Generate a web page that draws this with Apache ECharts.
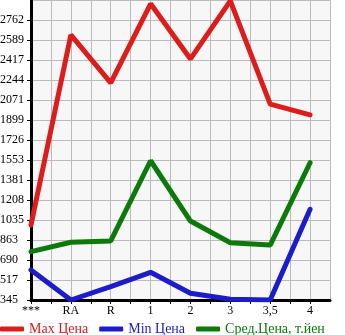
<!DOCTYPE html>
<html><head><meta charset="utf-8">
<script src="https://cdn.jsdelivr.net/npm/echarts@6/dist/echarts.min.js"></script>
<style>html,body{margin:0;padding:0;background:#fff}#c{width:345px;height:335px}</style>
</head><body><div id="c"></div>
<script>
const categories = ['***', 'RA', 'R', '1', '2', '3', '3,5', '4'];
const yTickLabels = ['345','517','690','863','1035','1208','1381','1553','1726','1899','2071','2244','2417','2589','2762'];
const maxPrice = [992, 2631, 2217, 2900, 2424, 2925, 2035, 1941];
const minPrice = [604, 345, 460, 584, 403, 352, 345, 1127];
const avgPrice = [762, 843, 854, 1546, 1026, 839, 819, 1529];

const yMin = 345, yStep = 172.5;
const font = 'Liberation Serif';
const chart = echarts.init(document.getElementById('c'), null, {renderer: 'canvas'});
function pts(arr){ return arr.map((v,i)=>[i,v]); }
chart.setOption({
  animation: false,
  grid: {left: 31, top: 0, right: 15, bottom: 35, show: true, backgroundColor: '#f7f7f7', borderWidth: 0,
         containLabel: false, outerBoundsMode: 'none'},
  xAxis: {
    type: 'value', min: 0, max: 7.5, interval: 0.5,
    axisLine: {show: true, onZero: false, lineStyle: {color: '#000', width: 3}},
    axisTick: {show: true, length: 4, lineStyle: {color: '#000', width: 1}},
    splitLine: {show: true, lineStyle: {color: '#bbbbbb', width: 1}},
    axisLabel: {
      color: '#000', fontFamily: font, fontSize: 12, margin: 5,
      showMaxLabel: false,
      formatter: v => { const i = Math.round(v*2); return (i % 2 === 0 && categories[i/2] !== undefined) ? categories[i/2] : ''; }
    }
  },
  yAxis: {
    type: 'value', min: yMin, max: yMin + 15*yStep, interval: yStep,
    axisLine: {show: true, lineStyle: {color: '#000', width: 3}},
    axisTick: {show: true, length: 4, lineStyle: {color: '#000', width: 1}},
    splitLine: {show: true, lineStyle: {color: '#bbbbbb', width: 1}},
    axisLabel: {
      color: '#000', fontFamily: font, fontSize: 12, margin: 31, align: 'left', padding: [0,0,6,0],
      showMaxLabel: false,
      formatter: v => { const i = Math.round((v - yMin)/yStep); return yTickLabels[i] || ''; }
    }
  },
  legend: {
    left: 0, top: 322, padding: 0, itemWidth: 24, itemHeight: 5, itemGap: 11, icon: 'roundRect',
    textStyle: {fontFamily: font, fontSize: 14},
    data: [
      {name: 'Max Цена', textStyle: {color: '#dd1c1c'}},
      {name: 'Min Цена', textStyle: {color: '#1c1ccc'}},
      {name: 'Сред.Цена, т.йен', textStyle: {color: '#0b7a0b'}}
    ]
  },
  series: [
    {name: 'Max Цена', type: 'line', data: pts(maxPrice), showSymbol: false, color: '#dd1c1c', lineStyle: {width: 5, cap: 'round'}},
    {name: 'Min Цена', type: 'line', data: pts(minPrice), showSymbol: false, color: '#1c1ccc', lineStyle: {width: 5, cap: 'round'}},
    {name: 'Сред.Цена, т.йен', type: 'line', data: pts(avgPrice), showSymbol: false, color: '#0b7a0b', lineStyle: {width: 5, cap: 'round'}}
  ]
});
</script></body></html>
